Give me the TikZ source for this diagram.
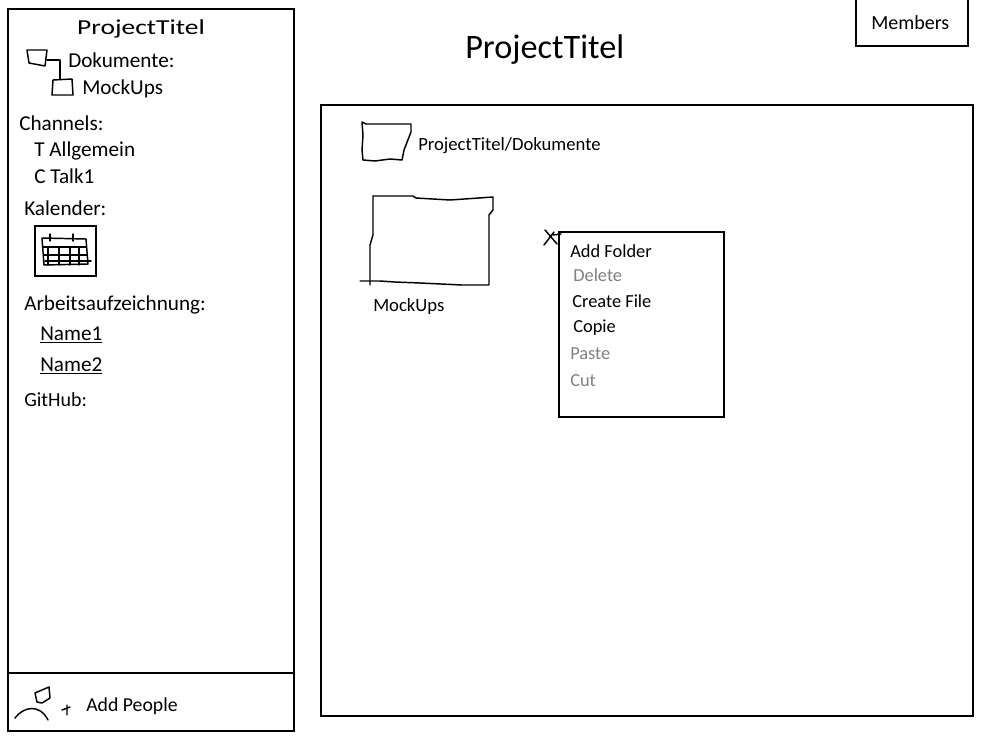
\documentclass[tikz,border=0pt]{standalone}
\usepackage{fontspec}
\setmainfont{Carlito}
\newfontfamily\headfont[FakeStretch=1.29]{Carlito}
\definecolor{greyed}{RGB}{128,128,128}
\tikzset{
  box/.style={draw=black,line width=1.5pt,fill=none,inner sep=0pt},
  sketch/.style={draw=black,line width=1.1pt,line join=round,line cap=round},
  side/.style={anchor=west,inner sep=0pt,font=\fontsize{15.9}{18}\selectfont},
  menu/.style={anchor=west,inner sep=0pt,font=\fontsize{13.8}{16}\selectfont},
  off/.style={menu,text=greyed}
}
\begin{document}
\begin{tikzpicture}[x=0.75pt,y=-0.75pt]
\useasboundingbox (0,0) rectangle (1000,750);
% frames
\node[box,minimum width=214.5pt,minimum height=541.5pt] (sidebar) at (151,370) {};
\node[box,minimum width=214.5pt,minimum height=43.5pt] (people) at (151,702) {};
\node[box,minimum width=489pt,minimum height=458.25pt] (main) at (647,410.5) {};
\node[box,minimum width=84pt,minimum height=36pt] (members) at (912,22) {};
\node[box,minimum width=123.75pt,minimum height=138.75pt] (context) at (641.5,324.5) {};
\node[box,minimum width=45.75pt,minimum height=37.5pt] (calbox) at (65.5,251) {};
% sidebar
\node[anchor=center,inner sep=0pt,font=\headfont\fontsize{16}{18}\selectfont] (sidetitle) at (141,29) {ProjectTitel};
\node[side] (docs) at (68,60.5) {Dokumente:};
\node[side] (mock) at (82,89) {MockUps};
\node[side] (chan) at (19,123) {Channels:};
\node[side] (allg) at (34,151) {T Allgemein};
\node[side] (talk) at (34,176) {C Talk1};
\node[side] (kal) at (24,208) {Kalender:};
\node[side] (arb) at (24,305) {Arbeitsaufzeichnung:};
\node[side] (nameone) at (40,335) {\underline{Name1}};
\node[side] (nametwo) at (40,366) {\underline{Name2}};
\node[side,font=\fontsize{15}{17}\selectfont] (git) at (24,400) {GitHub:};
\node[menu,font=\fontsize{14.8}{16}\selectfont] (add) at (86,706) {Add People};
% tree icons
\draw[sketch] (27,50) -- (47,50) -- (45,66) -- (29,63) -- cycle;
\draw[sketch] (47,60) -- (60,60) -- (60,79);
\draw[sketch] (53,80) -- (72,79) -- (73,95) -- (52,95) -- cycle;
% calendar
\draw[sketch] (42,238) -- (86,239) -- (88,264) -- (44,265) -- cycle;
\draw[sketch] (50,234) -- (50,241) (73,234) -- (73,241);
\draw[sketch] (43,247) -- (86,247) (44,255) -- (87,255) (45,261) -- (91,261);
\draw[sketch] (48,247) -- (48,265) (59,247) -- (59,265) (70,247) -- (70,265) (79,247) -- (79,265);
% person
\draw[sketch] (35,693) -- (49,687) -- (50,698) -- (42,703) -- (37,702) -- cycle;
\draw[sketch] (15,718) .. controls (24,706) and (40,704) .. (48,720);
\draw[sketch] (62,710) -- (70,707) (67,705) -- (67,715);
% main area
\node[anchor=west,inner sep=0pt,font=\fontsize{25.7}{30}\selectfont] (title) at (465,50) {ProjectTitel};
\node[menu,font=\fontsize{15}{17}\selectfont] (memlabel) at (871,23) {Members};
\node[menu,font=\fontsize{14}{16}\selectfont] (path) at (418,146) {ProjectTitel/Dokumente};
\node[menu,font=\fontsize{14}{16}\selectfont] (mocklabel) at (373,307) {MockUps};
\draw[sketch] (362,122) -- (366,124) -- (411,124) -- (411,132) -- (404,150) -- (402,160) -- (390,159) -- (375,161) -- (363,160) -- (362,150) -- (363,135) -- cycle;
\draw[sketch] (373,196) -- (413,196) -- (416,198) -- (450,200) -- (493,197) -- (493,210) -- (489,215) -- (489,285) -- (462,285) -- (420,283) -- (395,282) -- (380,281) -- (360,281);
\draw[sketch] (373,196) -- (373,235) -- (370,245) -- (370,285);
% cursor
\draw[sketch] (545,230) -- (557,244) (544,245) -- (554,232) (553,235) -- (561,234);
% context menu
\node[menu] (addfolder) at (570,251) {Add Folder};
\node[off] (delete) at (573,275) {Delete};
\node[menu] (create) at (572,301) {Create File};
\node[menu] (copie) at (573,328) {Copie};
\node[off] (paste) at (570,354) {Paste};
\node[off] (cut) at (570,381) {Cut};
\end{tikzpicture}
\end{document}
